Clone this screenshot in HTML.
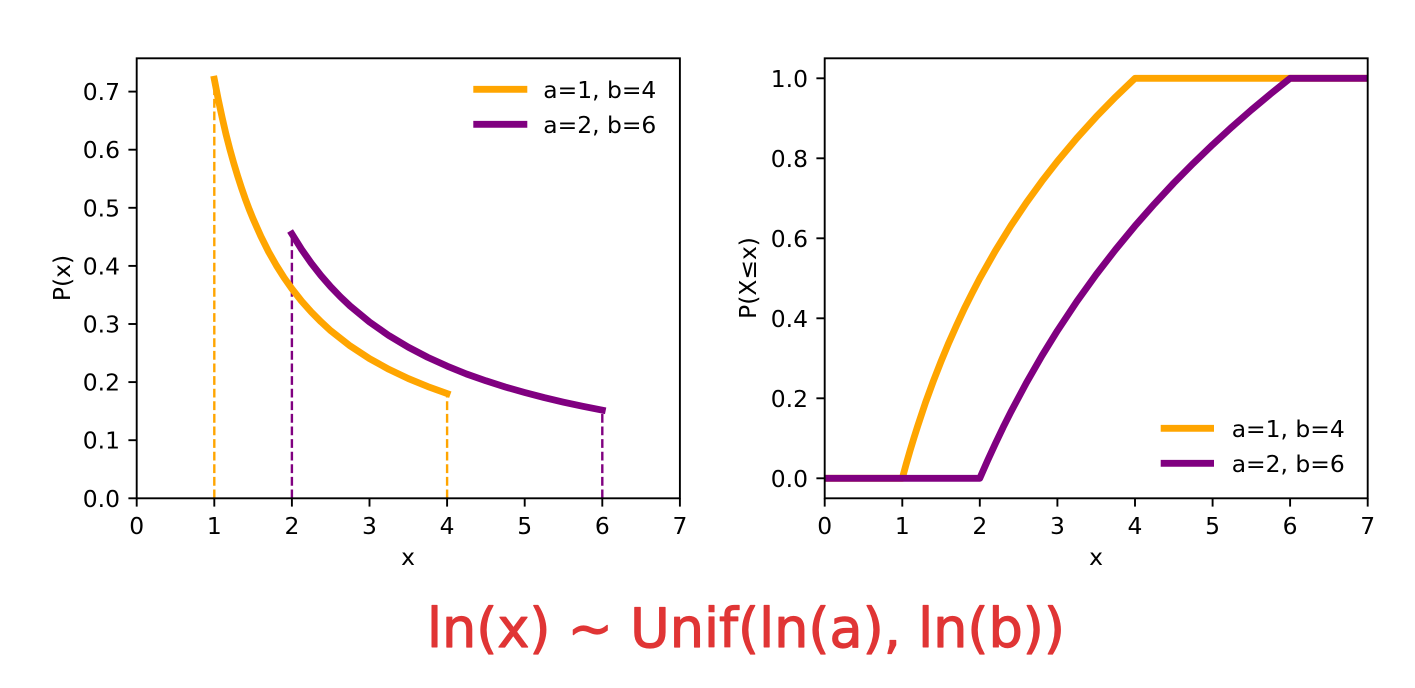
<!DOCTYPE html>
<html>
<head>
<meta charset="utf-8">
<style>
  html, body { margin: 0; padding: 0; background: #ffffff; }
  svg { display: block; }
  text { font-family: "DejaVu Sans", "Liberation Sans", sans-serif; fill: #000; }
</style>
</head>
<body>
<svg width="1415" height="688" viewBox="0 0 1415 688" xmlns="http://www.w3.org/2000/svg">
  <defs>
    <clipPath id="cl"><rect x="136.7" y="58.3" width="543.2" height="440"/></clipPath>
    <clipPath id="cr"><rect x="824.7" y="58.3" width="543" height="440"/></clipPath>
  </defs>
  <rect width="1415" height="688" fill="#fff"/>

  <!-- LEFT PLOT -->
  <g clip-path="url(#cl)">
    <g stroke-width="2.4" stroke-dasharray="8.8,3.8" fill="none">
      <line x1="214.3" y1="498.3" x2="214.3" y2="79.2" stroke="#ffa500"/>
      <line x1="447.1" y1="498.3" x2="447.1" y2="393.5" stroke="#ffa500"/>
      <line x1="291.9" y1="498.3" x2="291.9" y2="233.9" stroke="#800080"/>
      <line x1="602.3" y1="498.3" x2="602.3" y2="410.2" stroke="#800080"/>
    </g>
    <polyline fill="none" stroke="#ffa500" stroke-width="6.8" stroke-linecap="square" stroke-linejoin="round"
      points="214.3,79.2 218.2,99.2 222.1,117.3 225.9,133.9 229.8,149.05 233.7,163.0 237.6,175.9 241.5,187.9 245.3,198.9 249.2,209.3 253.1,218.9 260.9,236.4 268.6,251.8 276.4,265.5 284.1,277.7 291.9,288.75 301.6,301.1 311.3,312.0 321.0,321.8 330.7,330.7 350.1,345.9 369.5,358.6 388.9,369.35 408.3,378.56 427.7,386.54 447.1,393.52"/>
    <polyline fill="none" stroke="#800080" stroke-width="6.8" stroke-linecap="square" stroke-linejoin="round"
      points="291.9,233.88 301.6,249.4 311.3,263.26 321.0,275.6 330.7,286.76 340.4,296.8 350.1,305.99 369.5,322.02 388.9,335.6 408.3,347.2 427.7,357.3 447.1,366.09 466.5,374.0 485.9,380.78 505.3,387.0 524.7,392.53 544.1,397.6 563.5,402.15 582.9,406.3 602.3,410.16"/>
  </g>
  <rect x="136.7" y="58.3" width="543.2" height="440" fill="none" stroke="#000" stroke-width="1.9"/>
  <g stroke="#000" stroke-width="1.9">
    <line x1="136.7" y1="498.3" x2="136.7" y2="506.6"/>
    <line x1="214.3" y1="498.3" x2="214.3" y2="506.6"/>
    <line x1="291.9" y1="498.3" x2="291.9" y2="506.6"/>
    <line x1="369.5" y1="498.3" x2="369.5" y2="506.6"/>
    <line x1="447.1" y1="498.3" x2="447.1" y2="506.6"/>
    <line x1="524.7" y1="498.3" x2="524.7" y2="506.6"/>
    <line x1="602.3" y1="498.3" x2="602.3" y2="506.6"/>
    <line x1="679.9" y1="498.3" x2="679.9" y2="506.6"/>
    <line x1="128.4" y1="498.3" x2="136.7" y2="498.3"/>
    <line x1="128.4" y1="440.2" x2="136.7" y2="440.2"/>
    <line x1="128.4" y1="382.1" x2="136.7" y2="382.1"/>
    <line x1="128.4" y1="324.0" x2="136.7" y2="324.0"/>
    <line x1="128.4" y1="265.9" x2="136.7" y2="265.9"/>
    <line x1="128.4" y1="207.8" x2="136.7" y2="207.8"/>
    <line x1="128.4" y1="149.7" x2="136.7" y2="149.7"/>
    <line x1="128.4" y1="91.6" x2="136.7" y2="91.6"/>
  </g>
  <g font-size="23.4" text-anchor="middle">
    <text x="136.7" y="534">0</text>
    <text x="214.3" y="534">1</text>
    <text x="291.9" y="534">2</text>
    <text x="369.5" y="534">3</text>
    <text x="447.1" y="534">4</text>
    <text x="524.7" y="534">5</text>
    <text x="602.3" y="534">6</text>
    <text x="679.9" y="534">7</text>
  </g>
  <g font-size="23.4" text-anchor="end">
    <text x="120" y="506.8">0.0</text>
    <text x="120" y="448.7">0.1</text>
    <text x="120" y="390.6">0.2</text>
    <text x="120" y="332.5">0.3</text>
    <text x="120" y="274.4">0.4</text>
    <text x="120" y="216.3">0.5</text>
    <text x="120" y="158.2">0.6</text>
    <text x="120" y="100.1">0.7</text>
  </g>
  <text x="408" y="565" font-size="23.4" text-anchor="middle">x</text>
  <text transform="translate(70,278) rotate(-90)" font-size="23.4" text-anchor="middle">P(x)</text>
  <line x1="473.3" y1="89.3" x2="527.3" y2="89.3" stroke="#ffa500" stroke-width="6.8"/>
  <line x1="473.3" y1="124.3" x2="527.3" y2="124.3" stroke="#800080" stroke-width="6.8"/>
  <text x="543.3" y="97.8" font-size="23.4">a=1, b=4</text>
  <text x="543.3" y="132.8" font-size="23.4">a=2, b=6</text>

  <!-- RIGHT PLOT -->
  <g clip-path="url(#cr)">
    <polyline fill="none" stroke="#ffa500" stroke-width="6.8" stroke-linecap="square" stroke-linejoin="round"
      points="824.7,478.3 902.3,478.3 906.15,464.2 910.0,450.8 913.9,438.0 917.8,425.7 925.5,402.6 933.3,381.2 941.1,361.3 948.8,342.7 956.6,325.2 964.3,308.7 972.1,293.1 979.8,278.3 995.4,250.8 1010.9,225.7 1026.4,202.6 1041.9,181.2 1057.4,161.3 1076.8,138.2 1096.2,116.8 1115.6,96.9 1135.0,78.3 1367.7,78.3 1380,78.3"/>
    <polyline fill="none" stroke="#800080" stroke-width="6.8" stroke-linecap="square" stroke-linejoin="round"
      points="812,478.3 979.8,478.3 987.6,460.5 995.4,443.6 1003.1,427.4 1010.9,411.9 1026.4,382.8 1041.9,355.8 1057.4,330.7 1076.8,301.5 1096.2,274.5 1115.6,249.4 1135.0,225.9 1154.4,203.9 1173.8,183.0 1193.2,163.4 1212.6,144.7 1232.0,126.9 1251.3,110.0 1270.7,93.8 1290.1,78.3 1367.7,78.3 1380,78.3"/>
  </g>
  <rect x="824.7" y="58.3" width="543" height="440" fill="none" stroke="#000" stroke-width="1.9"/>
  <g stroke="#000" stroke-width="1.9">
    <line x1="824.7" y1="498.3" x2="824.7" y2="506.6"/>
    <line x1="902.3" y1="498.3" x2="902.3" y2="506.6"/>
    <line x1="979.8" y1="498.3" x2="979.8" y2="506.6"/>
    <line x1="1057.4" y1="498.3" x2="1057.4" y2="506.6"/>
    <line x1="1135.0" y1="498.3" x2="1135.0" y2="506.6"/>
    <line x1="1212.6" y1="498.3" x2="1212.6" y2="506.6"/>
    <line x1="1290.1" y1="498.3" x2="1290.1" y2="506.6"/>
    <line x1="1367.7" y1="498.3" x2="1367.7" y2="506.6"/>
    <line x1="816.4" y1="478.3" x2="824.7" y2="478.3"/>
    <line x1="816.4" y1="398.3" x2="824.7" y2="398.3"/>
    <line x1="816.4" y1="318.3" x2="824.7" y2="318.3"/>
    <line x1="816.4" y1="238.3" x2="824.7" y2="238.3"/>
    <line x1="816.4" y1="158.3" x2="824.7" y2="158.3"/>
    <line x1="816.4" y1="78.3" x2="824.7" y2="78.3"/>
  </g>
  <g font-size="23.4" text-anchor="middle">
    <text x="824.7" y="534">0</text>
    <text x="902.3" y="534">1</text>
    <text x="979.8" y="534">2</text>
    <text x="1057.4" y="534">3</text>
    <text x="1135.0" y="534">4</text>
    <text x="1212.6" y="534">5</text>
    <text x="1290.1" y="534">6</text>
    <text x="1367.7" y="534">7</text>
  </g>
  <g font-size="23.4" text-anchor="end">
    <text x="808" y="486.8">0.0</text>
    <text x="808" y="406.8">0.2</text>
    <text x="808" y="326.8">0.4</text>
    <text x="808" y="246.8">0.6</text>
    <text x="808" y="166.8">0.8</text>
    <text x="808" y="86.8">1.0</text>
  </g>
  <text x="1096" y="565" font-size="23.4" text-anchor="middle">x</text>
  <text transform="translate(756,278) rotate(-90)" font-size="23.4" text-anchor="middle">P(X≤x)</text>
  <line x1="1160.7" y1="428.3" x2="1214" y2="428.3" stroke="#ffa500" stroke-width="6.8"/>
  <line x1="1160.7" y1="463.3" x2="1214" y2="463.3" stroke="#800080" stroke-width="6.8"/>
  <text x="1231.7" y="436.8" font-size="23.4">a=1, b=4</text>
  <text x="1231.7" y="471.8" font-size="23.4">a=2, b=6</text>

  <!-- bottom caption -->
  <text x="427" y="647" font-family="Liberation Sans, sans-serif" font-size="54" style="fill:#e03535;stroke:#e03535;stroke-width:1.2;stroke-linejoin:round" textLength="638" lengthAdjust="spacingAndGlyphs">ln(x) ~ Unif(ln(a), ln(b))</text>
</svg>
</body>
</html>
